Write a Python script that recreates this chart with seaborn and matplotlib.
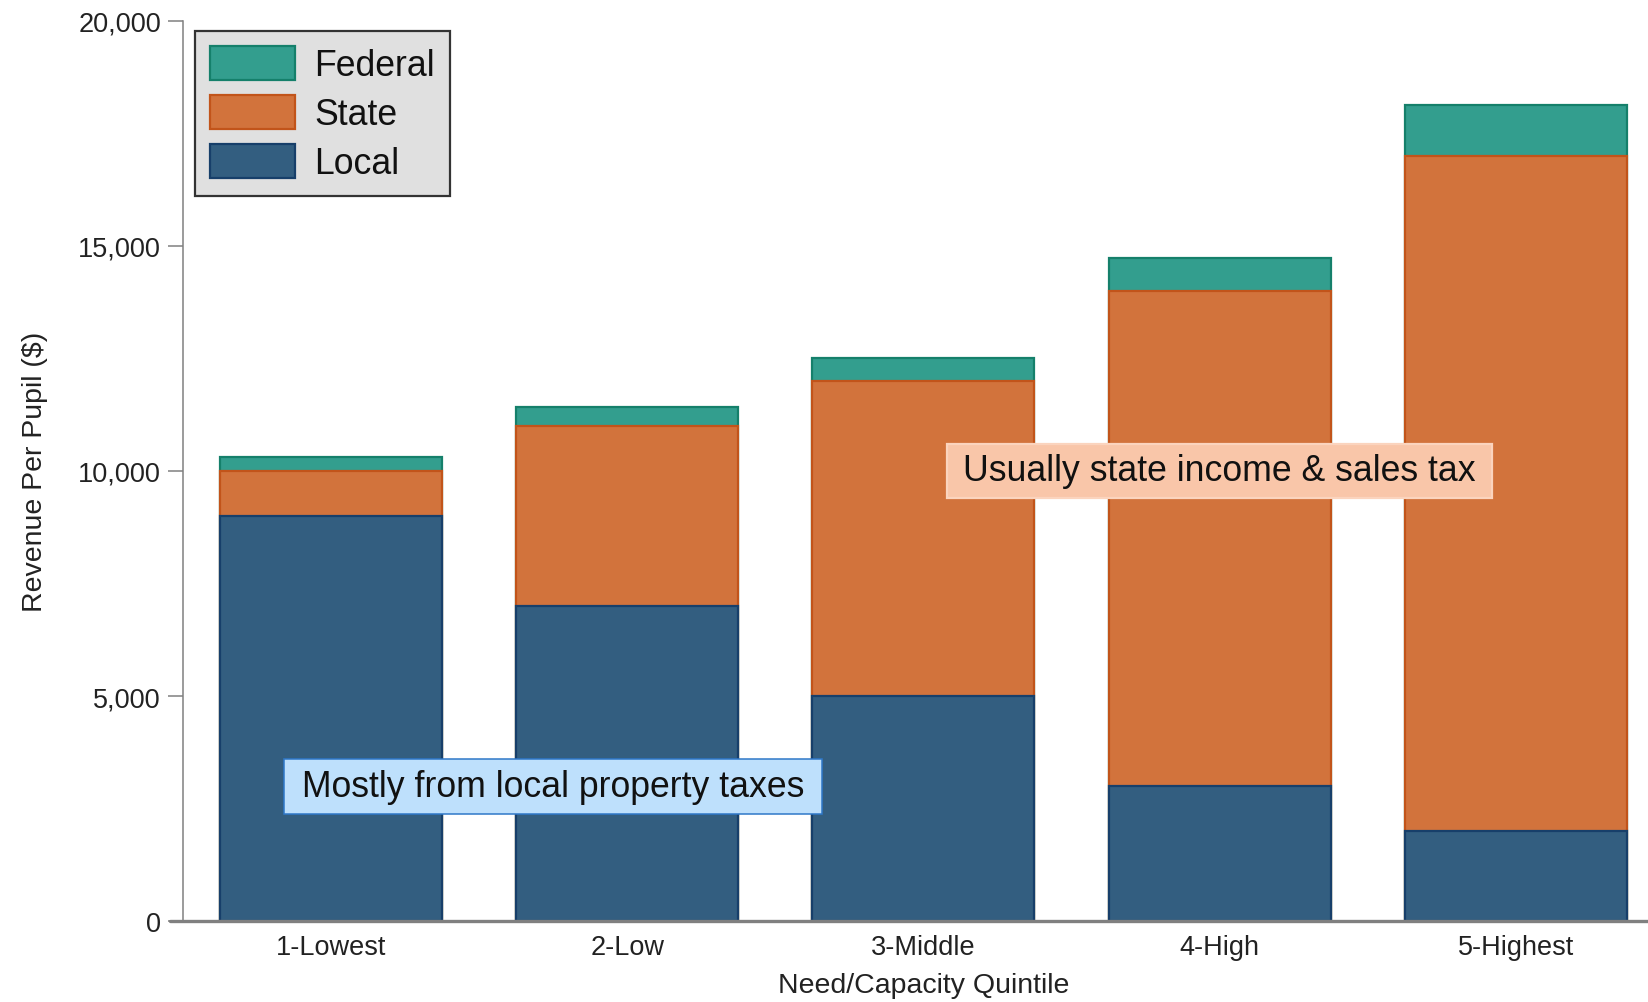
import matplotlib
matplotlib.use("Agg")
import matplotlib.pyplot as plt
from matplotlib.patches import Patch, Rectangle
from matplotlib.ticker import FuncFormatter
import seaborn as sns
import pandas as pd

# Revenue per pupil by need/capacity quintile, split by source
quintiles = ["1-Lowest", "2-Low", "3-Middle", "4-High", "5-Highest"]
local_rev = [9000, 7000, 5000, 3000, 2000]
state_rev = [1000, 4000, 7000, 11000, 15000]
federal_rev = [300, 420, 520, 730, 1120]
y_ticks = [0, 5000, 10000, 15000, 20000]

local_note = "Mostly from local property taxes"
state_note = "Usually state income & sales tax"

sns.set_style("ticks")
plt.rcParams["font.family"] = ["Liberation Sans", "DejaVu Sans"]

df = pd.DataFrame({"quintile": quintiles, "local": local_rev,
                   "state": state_rev, "federal": federal_rev})
df["local_top"] = df["local"]
df["state_top"] = df["local"] + df["state"]
df["federal_top"] = df["state_top"] + df["federal"]

W, H = 1649, 1003
fig = plt.figure(figsize=(W / 100, H / 100), dpi=100)
ax_left, ax_bottom, ax_top = 183, 922.3, 21.7
ax = fig.add_axes([ax_left / W, 1 - ax_bottom / H, 1 - ax_left / W, (ax_bottom - ax_top) / H])

# Stacked bars drawn as cumulative layers, tallest first
layers = [
    ("federal_top", "#339E8E", "#15806B", "Federal"),
    ("state_top", "#D2733C", "#C2541A", "State"),
    ("local_top", "#335E80", "#173F6A", "Local"),
]
for col, fc, ec, name in layers:
    sns.barplot(data=df, x="quintile", y=col, order=quintiles, color=fc,
                edgecolor=ec, linewidth=1.6, width=0.75, errorbar=None,
                saturation=1, ax=ax)

xmin, xmax = -0.5, 4.45
ax.set_xlim(xmin, xmax)
ax.set_ylim(0, 20000)
ax.set_yticks(y_ticks)
ax.yaxis.set_major_formatter(FuncFormatter(lambda v, p: f"{v:,.0f}"))

text_col = "#222222"
axis_col = "#808080"
ax.tick_params(axis="y", length=10.8, width=1.1, color=axis_col, pad=5,
               labelsize=19.5, labelcolor=text_col)
ax.tick_params(axis="x", length=0, pad=9, labelsize=19.5, labelcolor=text_col)

for s in ["top", "right", "bottom"]:
    ax.spines[s].set_visible(False)
ax.spines["left"].set_color(axis_col)
ax.spines["left"].set_linewidth(1.1)
# Baseline extends slightly left of the y axis
ax.axhline(0, xmin=-13 / (W - ax_left), xmax=1, color=axis_col, lw=2.4,
           clip_on=False, zorder=5)

ax.set_xlabel("Need/Capacity Quintile", fontsize=20.5, color=text_col, labelpad=9)
# centre the axis title under the middle quintile
ax.xaxis.label.set_x((2 - xmin) / (xmax - xmin))
ax.set_ylabel("Revenue Per Pupil ($)", fontsize=20.5, color=text_col, labelpad=22)

handles = [Patch(facecolor=fc, edgecolor=ec, linewidth=1.6, label=name)
           for _, fc, ec, name in layers]
leg = ax.legend(handles=handles, loc="upper left",
                bbox_to_anchor=(12 / (W - ax_left), 1 - 10.3 / (ax_bottom - ax_top)),
                borderaxespad=0, fontsize=25.7, frameon=True, fancybox=False,
                handlelength=2.38, handleheight=1.08, handletextpad=0.55,
                labelspacing=0.34, borderpad=0.42)
leg.get_frame().set_facecolor("#E0E0E0")
leg.get_frame().set_edgecolor("#333333")
leg.get_frame().set_linewidth(1.6)
leg.get_frame().set_alpha(1)
for t in leg.get_texts():
    t.set_color("#111111")

# Callout labels with boxes sized around the text
notes = [
    (local_note, 0.75, 3000, "#BEE0FC", "#2F78C8", 1.1, 18),
    (state_note, 3.0, 10000, "#F9C6A9", "#FBD4BE", 1.6, 16.5),
]
texts = []
for label, x, y, fc, ec, lw, padx in notes:
    t = ax.text(x, y, label, ha="center", va="center", fontsize=25.7,
                color="#111111", zorder=11)
    texts.append((t, fc, ec, lw, padx))

fig.canvas.draw()
renderer = fig.canvas.get_renderer()
for t, fc, ec, lw, padx in texts:
    bb = t.get_window_extent(renderer)
    box_h = 55
    cy = (bb.y0 + bb.y1) / 2
    x0, x1 = bb.x0 - padx, bb.x1 + padx
    y0, y1 = cy - box_h / 2, cy + box_h / 2
    inv = fig.transFigure.inverted()
    (fx0, fy0), (fx1, fy1) = inv.transform([(x0, y0), (x1, y1)])
    rect = Rectangle((fx0, fy0), fx1 - fx0, fy1 - fy0, transform=fig.transFigure,
                     facecolor=fc, edgecolor=ec, linewidth=lw, zorder=10)
    ax.add_artist(rect)
    rect.set_clip_on(False)

fig.savefig("out.png", dpi=100)
